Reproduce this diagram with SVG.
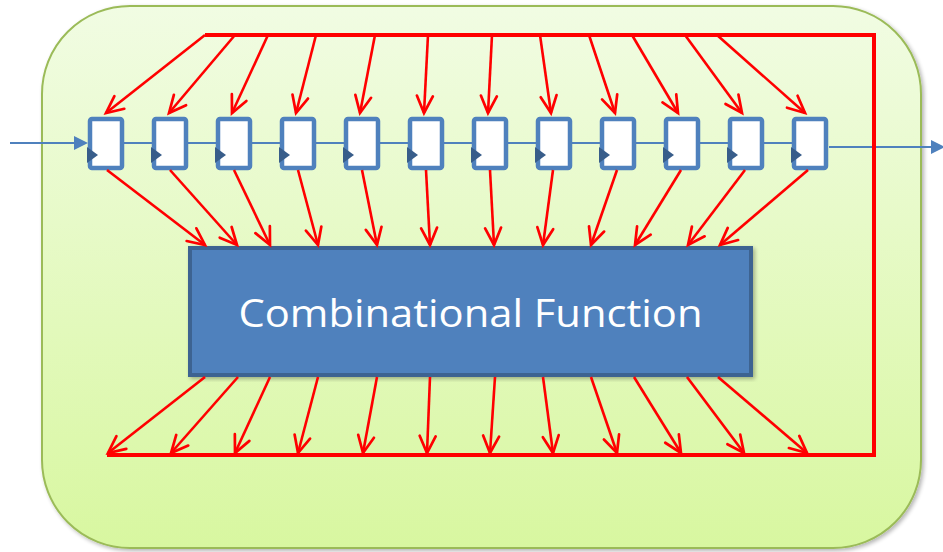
<svg xmlns="http://www.w3.org/2000/svg" width="943" height="552" viewBox="0 0 943 552">
  <defs>
    <linearGradient id="bgGrad" x1="0" y1="0" x2="0" y2="1">
      <stop offset="0" stop-color="#f1fce3"/>
      <stop offset="1" stop-color="#d8f7a0"/>
    </linearGradient>
    <filter id="softShadow" x="-5%" y="-5%" width="110%" height="110%">
      <feGaussianBlur in="SourceAlpha" stdDeviation="2"/>
      <feOffset dx="2" dy="2"/>
      <feComponentTransfer><feFuncA type="linear" slope="0.3"/></feComponentTransfer>
      <feMerge><feMergeNode/><feMergeNode in="SourceGraphic"/></feMerge>
    </filter>
    <marker id="vHead" markerUnits="userSpaceOnUse" markerWidth="24" markerHeight="24" viewBox="-20 -10 24 20" refX="0" refY="0" orient="auto">
      <path d="M-17,-8 L0,0 L-17,8" fill="none" stroke="#ff0000" stroke-width="2.7" stroke-linecap="round" stroke-linejoin="miter"/>
    </marker>
  </defs>
  <style>
    .bus { fill: none; stroke: #ff0000; stroke-width: 4; }
    .wire { fill: none; stroke: #ff0000; stroke-width: 2.6; marker-end: url(#vHead); }
    .reg rect { fill: #ffffff; stroke: #4f81bd; stroke-width: 4.5; }
    .reg polygon { fill: #385d8a; }
    .chain { fill: none; stroke: #4f81bd; stroke-width: 2; }
    .label { font-family: "Open Sans", "Liberation Sans", sans-serif; font-size: 38px; fill: #ffffff; }
  </style>

  <!-- enclosing panel -->
  <rect x="42" y="6" width="879" height="542" rx="88" ry="88" fill="url(#bgGrad)" stroke="#9bbb59" stroke-width="2" filter="url(#softShadow)"/>

  <!-- shift chain and external in/out -->
  <g id="chain">
    <line class="chain" x1="10" y1="143" x2="80" y2="143"/>
    <polygon points="74,136 88,143 74,150" fill="#4f81bd"/>
    <line class="chain" x1="122" y1="143" x2="792" y2="143"/>
    <line class="chain" x1="829" y1="147" x2="935" y2="147"/>
    <polygon points="931,140 945,147 931,154" fill="#4f81bd"/>
  </g>

  <!-- registers -->
  <g id="reg1" class="reg"><rect x="90" y="119" width="32" height="49" rx="2"/><polygon points="87,147 98,155 87,163"/></g>
  <g id="reg2" class="reg"><rect x="154" y="119" width="32" height="49" rx="2"/><polygon points="151,147 162,155 151,163"/></g>
  <g id="reg3" class="reg"><rect x="218" y="119" width="32" height="49" rx="2"/><polygon points="215,147 226,155 215,163"/></g>
  <g id="reg4" class="reg"><rect x="282" y="119" width="32" height="49" rx="2"/><polygon points="279,147 290,155 279,163"/></g>
  <g id="reg5" class="reg"><rect x="346" y="119" width="32" height="49" rx="2"/><polygon points="343,147 354,155 343,163"/></g>
  <g id="reg6" class="reg"><rect x="410" y="119" width="32" height="49" rx="2"/><polygon points="407,147 418,155 407,163"/></g>
  <g id="reg7" class="reg"><rect x="474" y="119" width="32" height="49" rx="2"/><polygon points="471,147 482,155 471,163"/></g>
  <g id="reg8" class="reg"><rect x="538" y="119" width="32" height="49" rx="2"/><polygon points="535,147 546,155 535,163"/></g>
  <g id="reg9" class="reg"><rect x="602" y="119" width="32" height="49" rx="2"/><polygon points="599,147 610,155 599,163"/></g>
  <g id="reg10" class="reg"><rect x="666" y="119" width="32" height="49" rx="2"/><polygon points="663,147 674,155 663,163"/></g>
  <g id="reg11" class="reg"><rect x="730" y="119" width="32" height="49" rx="2"/><polygon points="727,147 738,155 727,163"/></g>
  <g id="reg12" class="reg"><rect x="794" y="119" width="32" height="49" rx="2"/><polygon points="791,147 802,155 791,163"/></g>

  <!-- combinational block -->
  <g id="comb">
    <rect x="190" y="248" width="561" height="127" fill="#4f81bd" stroke="#3c6391" stroke-width="4" filter="url(#softShadow)"/>
    <text class="label" x="470.5" y="327" text-anchor="middle" textLength="464" lengthAdjust="spacingAndGlyphs">Combinational Function</text>
  </g>

  <!-- feedback bus and wires -->
  <g id="connectors">
    <polyline class="bus" points="205,35 874,35 874,455 107,455"/>

    <!-- bus to register inputs -->
    <line class="wire" x1="205" y1="35" x2="106" y2="113"/>
    <line class="wire" x1="235" y1="35" x2="169" y2="113"/>
    <line class="wire" x1="268" y1="35" x2="232" y2="113"/>
    <line class="wire" x1="316" y1="35" x2="296" y2="113"/>
    <line class="wire" x1="375" y1="35" x2="360" y2="113"/>
    <line class="wire" x1="428" y1="35" x2="424" y2="113"/>
    <line class="wire" x1="492" y1="35" x2="488" y2="113"/>
    <line class="wire" x1="540" y1="35" x2="551" y2="113"/>
    <line class="wire" x1="589" y1="35" x2="615" y2="113"/>
    <line class="wire" x1="632" y1="35" x2="678" y2="113"/>
    <line class="wire" x1="685" y1="35" x2="742" y2="113"/>
    <line class="wire" x1="717" y1="35" x2="805" y2="113"/>

    <!-- register outputs to block -->
    <line class="wire" x1="107" y1="170" x2="205" y2="245"/>
    <line class="wire" x1="170" y1="170" x2="237" y2="245"/>
    <line class="wire" x1="234" y1="170" x2="270" y2="245"/>
    <line class="wire" x1="298" y1="170" x2="318" y2="245"/>
    <line class="wire" x1="362" y1="170" x2="377" y2="245"/>
    <line class="wire" x1="426" y1="170" x2="430" y2="245"/>
    <line class="wire" x1="490" y1="170" x2="494" y2="245"/>
    <line class="wire" x1="553" y1="170" x2="543" y2="245"/>
    <line class="wire" x1="617" y1="170" x2="591" y2="245"/>
    <line class="wire" x1="681" y1="170" x2="635" y2="245"/>
    <line class="wire" x1="745" y1="170" x2="688" y2="245"/>
    <line class="wire" x1="808" y1="170" x2="720" y2="245"/>

    <!-- block outputs to bus -->
    <line class="wire" x1="205" y1="377" x2="108" y2="453"/>
    <line class="wire" x1="238" y1="377" x2="171" y2="453"/>
    <line class="wire" x1="270" y1="377" x2="235" y2="453"/>
    <line class="wire" x1="318" y1="377" x2="298" y2="453"/>
    <line class="wire" x1="377" y1="377" x2="363" y2="453"/>
    <line class="wire" x1="430" y1="377" x2="427" y2="453"/>
    <line class="wire" x1="495" y1="377" x2="490" y2="453"/>
    <line class="wire" x1="543" y1="377" x2="553" y2="453"/>
    <line class="wire" x1="591" y1="377" x2="617" y2="453"/>
    <line class="wire" x1="634" y1="377" x2="681" y2="453"/>
    <line class="wire" x1="687" y1="377" x2="744" y2="453"/>
    <line class="wire" x1="718" y1="377" x2="807" y2="453"/>
  </g>
</svg>
